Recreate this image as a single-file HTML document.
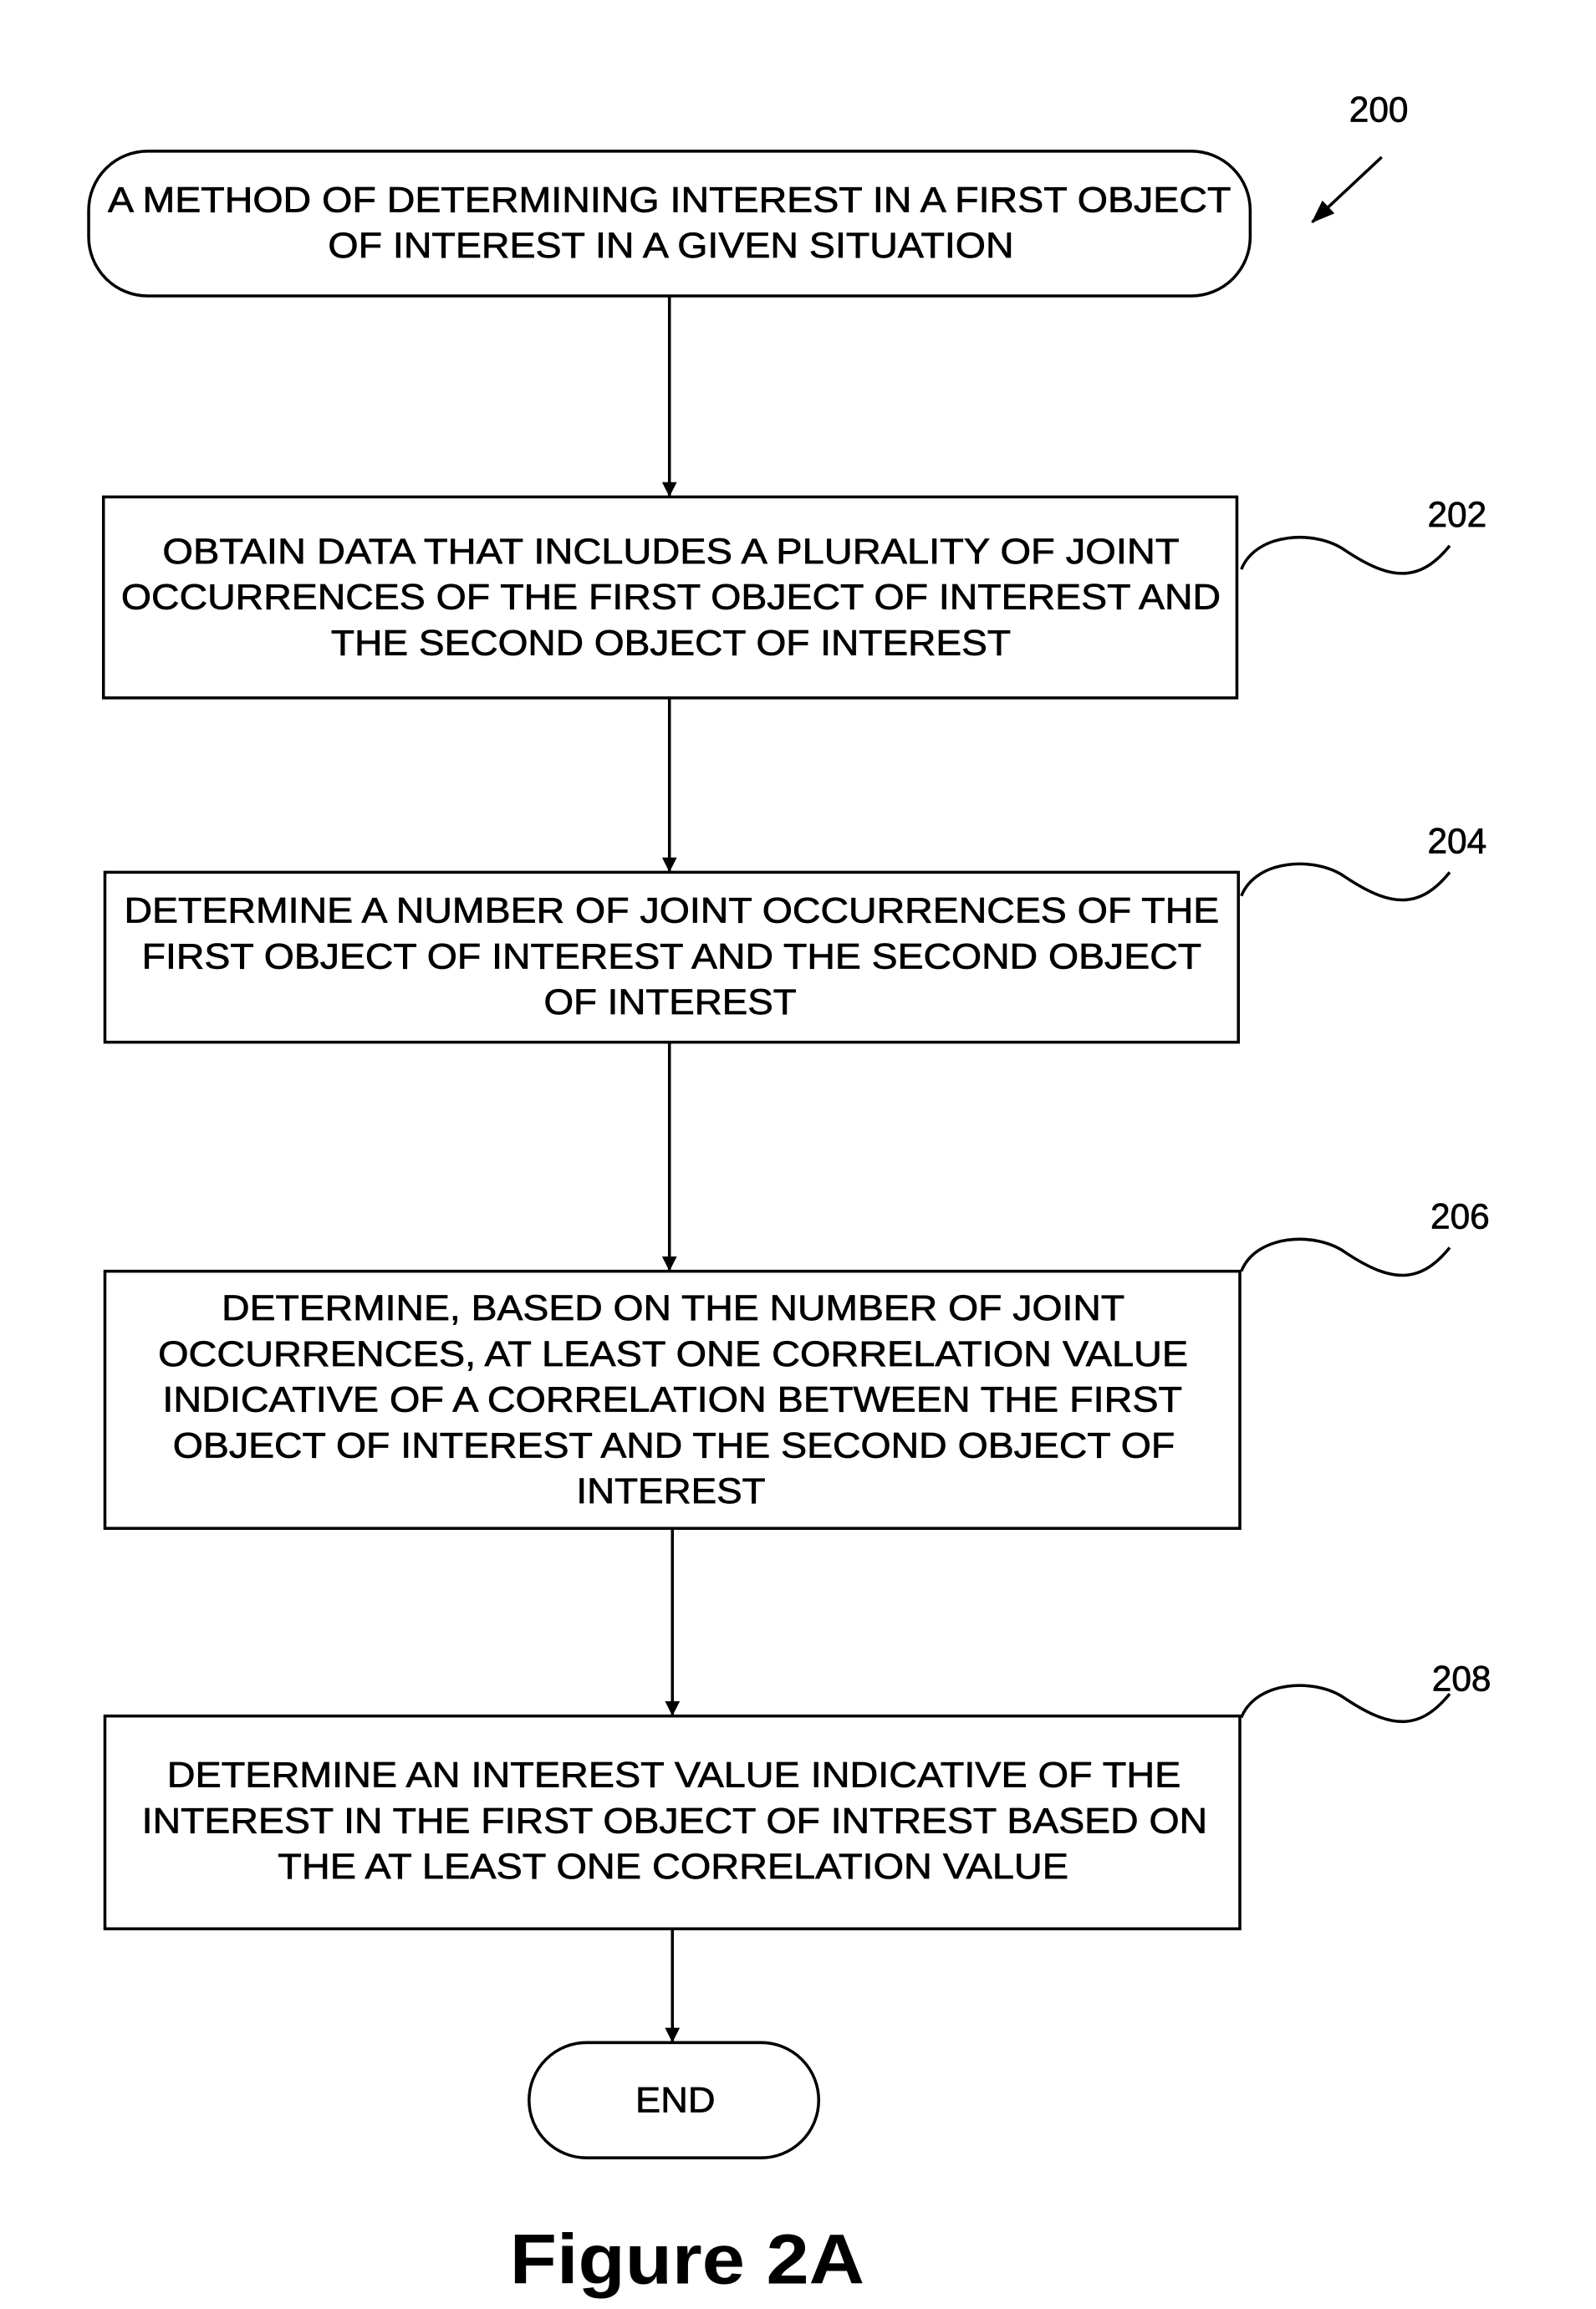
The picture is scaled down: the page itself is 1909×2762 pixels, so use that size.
<!DOCTYPE html>
<html><head><style>html,body{margin:0;padding:0;background:#fff}svg{display:block}</style></head>
<body>
<svg width="1909" height="2762" viewBox="0 0 1080 1562" xmlns="http://www.w3.org/2000/svg" font-family="Liberation Sans, Arial, sans-serif">
<defs><marker id="a" markerWidth="10" markerHeight="10" refX="9" refY="5" orient="auto" markerUnits="userSpaceOnUse"><path d="M0,0 L10,5 L0,10 Z" fill="#000"/></marker>
<marker id="b" markerWidth="16" markerHeight="16" refX="15" refY="8" orient="auto" markerUnits="userSpaceOnUse"><path d="M0,2 L16,8 L0,14 Z" fill="#000"/></marker></defs>
<g fill="none" stroke="#000" stroke-width="2">
<rect x="60" y="102" width="786" height="98" rx="40"/>
<rect x="70" y="336" width="767" height="136"/>
<rect x="71" y="590" width="767" height="115"/>
<rect x="71" y="860" width="768" height="174"/>
<rect x="71" y="1161" width="768" height="144"/>
<rect x="358" y="1382" width="196" height="78" rx="39"/>
<line x1="453" y1="200" x2="453" y2="335" marker-end="url(#a)"/>
<line x1="453" y1="472" x2="453" y2="589" marker-end="url(#a)"/>
<line x1="453" y1="705" x2="453" y2="859" marker-end="url(#a)"/>
<line x1="455" y1="1034" x2="455" y2="1160" marker-end="url(#a)"/>
<line x1="455" y1="1305" x2="455" y2="1381" marker-end="url(#a)"/>
<line x1="935" y1="106" x2="888" y2="150" marker-end="url(#b)"/>
<path d="M840,385 C850,360 890,358 910,372 C940,392 960,395 981,369"/>
<path d="M840,606 C850,581 890,579 910,593 C940,613 960,616 981,590"/>
<path d="M840,860 C850,835 890,833 910,847 C940,867 960,870 981,844"/>
<path d="M840,1162 C850,1137 890,1135 910,1149 C940,1169 960,1172 981,1146"/>
</g>
<g font-size="24" fill="#000" stroke="#000" stroke-width="0.4" text-anchor="start">
<text x="933" y="82" text-anchor="middle">200</text>
<text x="986" y="356" text-anchor="middle">202</text>
<text x="986" y="577" text-anchor="middle">204</text>
<text x="988" y="831" text-anchor="middle">206</text>
<text x="989" y="1144" text-anchor="middle">208</text>
<text x="73" y="143" textLength="760" lengthAdjust="spacingAndGlyphs">A METHOD OF DETERMINING INTEREST IN A FIRST OBJECT</text>
<text x="222" y="174" textLength="464" lengthAdjust="spacingAndGlyphs">OF INTEREST IN A GIVEN SITUATION</text>
<text x="110" y="381" textLength="688" lengthAdjust="spacingAndGlyphs">OBTAIN DATA THAT INCLUDES A PLURALITY OF JOINT</text>
<text x="82" y="412" textLength="744" lengthAdjust="spacingAndGlyphs">OCCURRENCES OF THE FIRST OBJECT OF INTEREST AND</text>
<text x="224" y="443" textLength="460" lengthAdjust="spacingAndGlyphs">THE SECOND OBJECT OF INTEREST</text>
<text x="84" y="624" textLength="741" lengthAdjust="spacingAndGlyphs">DETERMINE A NUMBER OF JOINT OCCURRENCES OF THE</text>
<text x="96" y="655" textLength="717" lengthAdjust="spacingAndGlyphs">FIRST OBJECT OF INTEREST AND THE SECOND OBJECT</text>
<text x="368" y="686" textLength="171" lengthAdjust="spacingAndGlyphs">OF INTEREST</text>
<text x="150" y="893" textLength="611" lengthAdjust="spacingAndGlyphs">DETERMINE, BASED ON THE NUMBER OF JOINT</text>
<text x="107" y="924" textLength="697" lengthAdjust="spacingAndGlyphs">OCCURRENCES, AT LEAST ONE CORRELATION VALUE</text>
<text x="110" y="955" textLength="690" lengthAdjust="spacingAndGlyphs">INDICATIVE OF A CORRELATION BETWEEN THE FIRST</text>
<text x="117" y="986" textLength="678" lengthAdjust="spacingAndGlyphs">OBJECT OF INTEREST AND THE SECOND OBJECT OF</text>
<text x="390" y="1017" textLength="128" lengthAdjust="spacingAndGlyphs">INTEREST</text>
<text x="113" y="1209" textLength="686" lengthAdjust="spacingAndGlyphs">DETERMINE AN INTEREST VALUE INDICATIVE OF THE</text>
<text x="96" y="1240" textLength="721" lengthAdjust="spacingAndGlyphs">INTEREST IN THE FIRST OBJECT OF INTREST BASED ON</text>
<text x="188" y="1271" textLength="535" lengthAdjust="spacingAndGlyphs">THE AT LEAST ONE CORRELATION VALUE</text>
<text x="430" y="1429" textLength="54" lengthAdjust="spacingAndGlyphs">END</text>
<text x="345" y="1545" font-size="48" font-weight="bold" stroke-width="0" textLength="240" lengthAdjust="spacingAndGlyphs">Figure 2A</text>
</g>
</svg>
</body></html>
